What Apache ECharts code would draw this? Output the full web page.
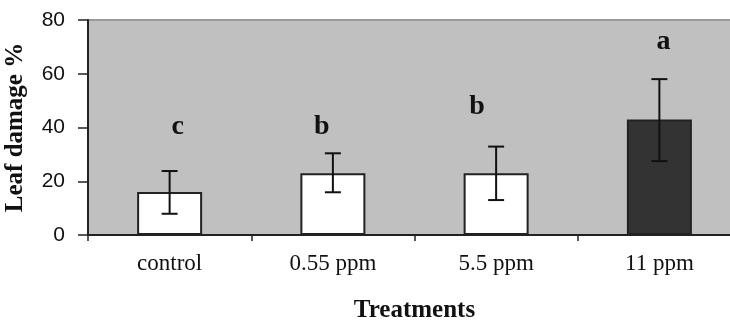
<!DOCTYPE html>
<html>
<head>
<meta charset="utf-8">
<script src="https://cdn.jsdelivr.net/npm/echarts@6/dist/echarts.min.js"></script>
<style>html,body{margin:0;padding:0;background:#fff;}#c{width:730px;height:323px;}</style>
</head>
<body>
<div id="c"></div>
<script>
// ---- data ----
const categories = ['control', '0.55 ppm', '5.5 ppm', '11 ppm'];
const meanDamage = [16, 23, 23, 43];
const errLow = [7.9, 15.9, 13.0, 27.5];
const errHigh = [23.8, 30.4, 32.9, 58];
const letters = ['c', 'b', 'b', 'a'];
const letterLevel = [40.2, 40.2, 47.7, 71.9];
const yTicks = [0, 20, 40, 60, 80];
// ---- styling ----
const barFills = ['#ffffff', '#ffffff', '#ffffff', '#333333'];
const letterNudgeX = [8, -11, -19, 4];

const chart = echarts.init(document.getElementById('c'), null, {renderer: 'canvas'});
chart.setOption({
  animation: false,
  grid: {left: 88, top: 20, width: 653, height: 215, show: true, outerBoundsMode: 'none', containLabel: false,
         backgroundColor: '#c0c0c0', borderColor: '#9a9a9a', borderWidth: 2},
  xAxis: {
    type: 'category', data: categories,
    axisLine: {lineStyle: {color: '#222', width: 2}},
    axisTick: {show: true, length: 6, lineStyle: {color: '#222', width: 1.5}},
    axisLabel: {fontFamily: 'Liberation Serif', fontSize: 23, color: '#111', margin: 17},
    name: 'Treatments', nameLocation: 'middle', nameGap: 63,
    nameTextStyle: {fontFamily: 'Liberation Serif', fontWeight: 'bold', fontSize: 25, color: '#111'}
  },
  yAxis: {
    type: 'value', min: yTicks[0], max: yTicks[yTicks.length - 1], interval: 20,
    axisLine: {show: true, lineStyle: {color: '#222', width: 2}},
    axisTick: {show: true, length: 10, lineStyle: {color: '#222', width: 1.5}},
    splitLine: {show: false},
    axisLabel: {fontFamily: 'Liberation Sans', fontSize: 21, color: '#111', margin: 23},
    name: 'Leaf damage %', nameLocation: 'middle', nameGap: 60,
    nameTextStyle: {fontFamily: 'Liberation Serif', fontWeight: 'bold', fontSize: 25, color: '#111'}
  },
  series: [
    {
      type: 'bar', barWidth: 65,
      data: meanDamage.map((v, i) => ({value: v, itemStyle: {color: barFills[i]}})),
      itemStyle: {borderColor: '#222', borderWidth: 2}
    },
    {
      type: 'custom',
      data: categories.map((c, i) => [i, errLow[i], errHigh[i]]),
      renderItem: function (params, api) {
        const lo = api.coord([api.value(0), api.value(1)]);
        const hi = api.coord([api.value(0), api.value(2)]);
        const hw = 8;
        const st = {stroke: '#111', lineWidth: 2};
        return {type: 'group', children: [
          {type: 'line', shape: {x1: lo[0], y1: lo[1], x2: hi[0], y2: hi[1]}, style: st},
          {type: 'line', shape: {x1: lo[0] - hw, y1: lo[1], x2: lo[0] + hw, y2: lo[1]}, style: st},
          {type: 'line', shape: {x1: hi[0] - hw, y1: hi[1], x2: hi[0] + hw, y2: hi[1]}, style: st}
        ]};
      },
      z: 5
    },
    {
      type: 'custom',
      data: categories.map((c, i) => [i, letterLevel[i]]),
      renderItem: function (params, api) {
        const p = api.coord([api.value(0), api.value(1)]);
        const i = params.dataIndex;
        return {type: 'text', x: p[0] + letterNudgeX[i], y: p[1],
          style: {text: letters[i], fontFamily: 'Liberation Serif', fontWeight: 'bold',
                  fontSize: 28, fill: '#111', align: 'center', verticalAlign: 'middle'}};
      },
      z: 6
    }
  ]
});
</script>
</body>
</html>
